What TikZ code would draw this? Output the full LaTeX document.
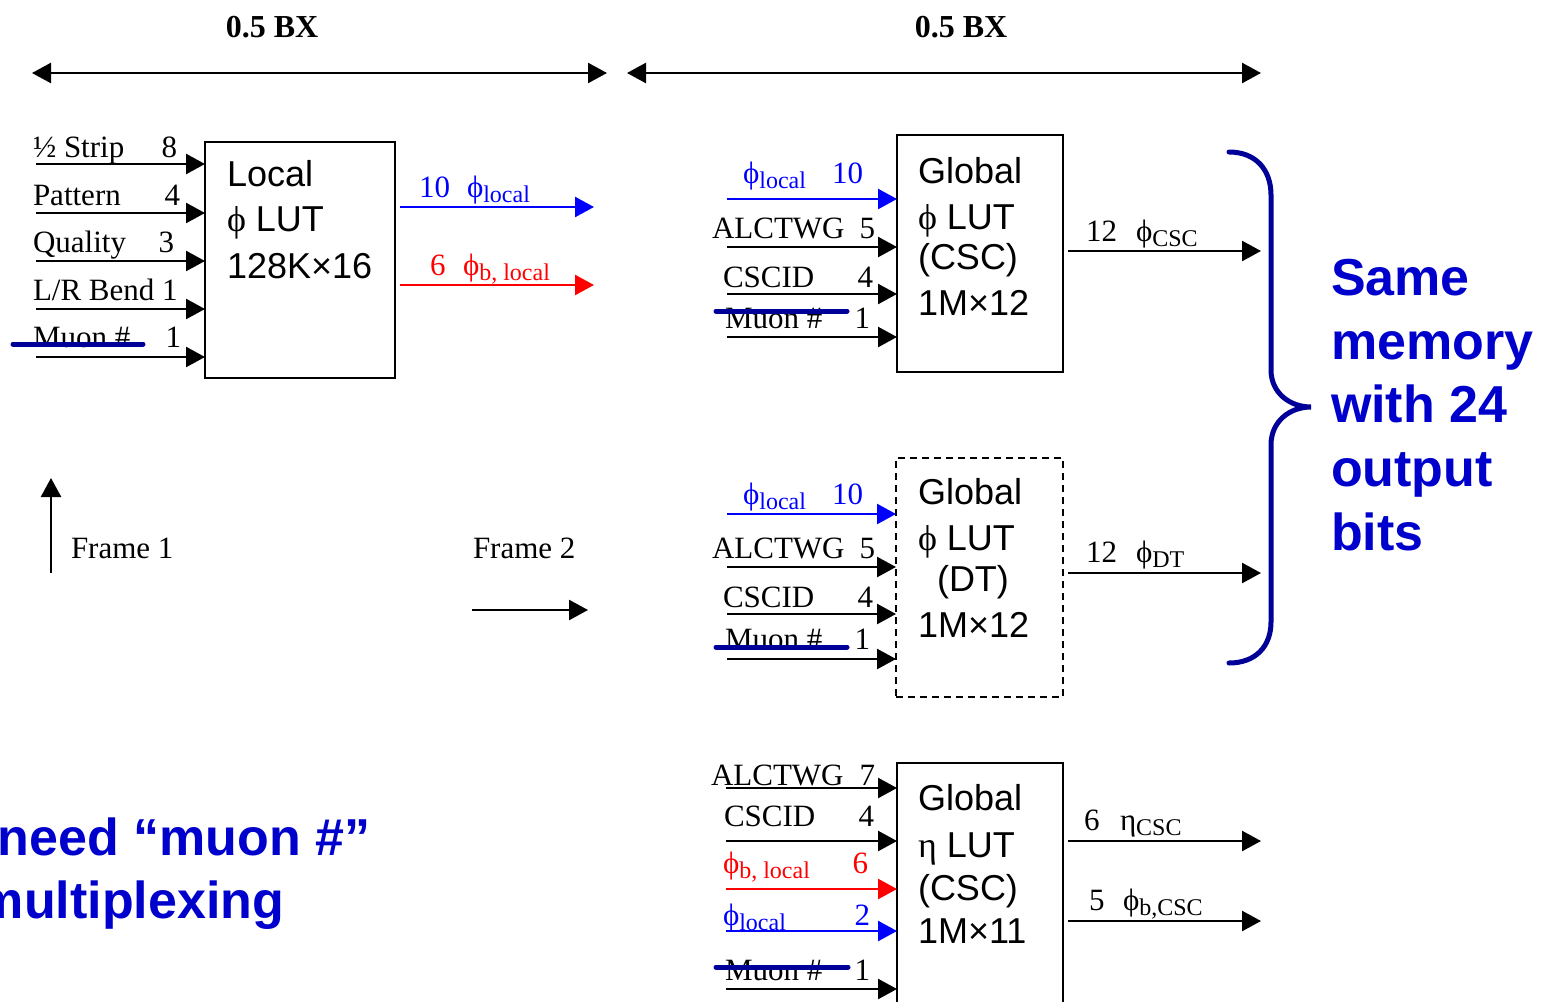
\documentclass[tikz,border=0pt]{standalone}
\usepackage{fontspec}
\setmainfont{Liberation Serif}
\newfontfamily\arialf{Liberation Sans}
\usetikzlibrary{arrows.meta}
\definecolor{sigblue}{RGB}{0,0,255}
\definecolor{sigred}{RGB}{255,0,0}
\definecolor{navy}{RGB}{0,0,153}
\definecolor{txtblue}{RGB}{0,0,204}
\newcommand{\tnr}{\fontsize{31}{31}\selectfont}
\newcommand{\lutf}{\arialf\fontsize{36}{36}\selectfont}
\newcommand{\lutsym}{\rmfamily\fontsize{36}{36}\selectfont}
\newcommand{\bigf}{\arialf\bfseries\fontsize{52}{52}\selectfont}
\newcommand{\sbs}[1]{\raisebox{-5pt}{\fontsize{24}{24}\selectfont #1}}
\tikzset{
  lb/.style={font=\tnr, inner sep=0pt, outer sep=0pt},
  lutt/.style={font=\lutf, inner sep=0pt, outer sep=0pt, anchor=base west},
  lutbox/.style={draw, line width=2pt, inner sep=0pt, outer sep=0pt, anchor=north west},
  sig/.style={line width=2.5pt, -{Triangle[length=19pt,width=20pt]}},
  dsig/.style={line width=2.5pt, {Triangle[length=19pt,width=20pt]}-{Triangle[length=19pt,width=20pt]}},
  strikeout/.style={line width=5pt, line cap=round, draw=navy},
  bigtxt/.style={font=\bigf, text=txtblue, inner sep=0pt, outer sep=0pt, anchor=base west},
}
\begin{document}
\begin{tikzpicture}[x=1pt,y=-1pt]
\useasboundingbox (0,0) rectangle (1541,1001);
\clip (0,0) rectangle (1541,1001);

% ---------- top time arrows ----------
\coordinate (ta1) at (32,73); \coordinate (tb1) at (607,73);
\coordinate (ta2) at (627,73); \coordinate (tb2) at (1261,73);
\draw[dsig] (ta1) -- (tb1);
\draw[dsig] (ta2) -- (tb2);
\node[lb, font=\bfseries\fontsize{32}{32}\selectfont, anchor=base] (bx1) at (272,37) {0.5 BX};
\node[lb, font=\bfseries\fontsize{32}{32}\selectfont, anchor=base] (bx2) at (961,37) {0.5 BX};

% ---------- Local phi LUT ----------
\node[lutbox, minimum width=190pt, minimum height=236pt] (loc) at (205,142) {};
\node[lutt] (locA) at (227,186) {Local};
\node[lutt] (locB) at (227,231) {{\lutsym ϕ} LUT};
\node[lutt] (locC) at (227,278) {128K×16};

\node[lb, anchor=base west] (li1) at (33,157) {½ Strip};
\node[lb, anchor=base east] (ln1) at (177,157) {8};
\node[lb, anchor=base west] (li2) at (33,205) {Pattern};
\node[lb, anchor=base east] (ln2) at (180,205) {4};
\node[lb, anchor=base west] (li3) at (33,252) {Quality};
\node[lb, anchor=base east] (ln3) at (174,252) {3};
\node[lb, anchor=base west] (li4) at (33,300) {L/R Bend 1};
\node[lb, anchor=base west] (li5) at (33,347) {Muon \#};
\node[lb, anchor=base east] (ln5) at (181,347) {1};
\coordinate (ls1) at (13,344); \coordinate (le1) at (143,344);
\draw[strikeout] (ls1) -- (le1);

\coordinate (lin1) at (36,164);
\coordinate (lin2) at (36,213);
\coordinate (lin3) at (36,261);
\coordinate (lin4) at (36,309);
\coordinate (lin5) at (36,357);
\foreach \i in {1,...,5} {\draw[sig] (lin\i) -- (lin\i -| loc.west);}

\coordinate (lo1) at (594,207);
\coordinate (lo2) at (594,285);
\draw[sig, draw=sigblue, fill=sigblue] ([xshift=5pt]loc.east |- lo1) -- (lo1);
\draw[sig, draw=sigred, fill=sigred] ([xshift=5pt]loc.east |- lo2) -- (lo2);
\node[lb, anchor=base west, text=sigblue] (lon1) at (419,197) {10};
\node[lb, anchor=base west, text=sigblue] (lol1) at (467,197) {ϕ\sbs{local}};
\node[lb, anchor=base west, text=sigred] (lon2) at (430,275) {6};
\node[lb, anchor=base west, text=sigred] (lol2) at (463,275) {ϕ\sbs{b, local}};

% ---------- Frame markers ----------
\coordinate (f1a) at (51,573); \coordinate (f1b) at (51,478);
\draw[sig] (f1a) -- (f1b);
\node[lb, anchor=base west] (fr1) at (71,558) {Frame 1};
\node[lb, anchor=base west] (fr2) at (473,558) {Frame 2};
\coordinate (f2a) at (472,610); \coordinate (f2b) at (588,610);
\draw[sig] (f2a) -- (f2b);

% ---------- Global phi LUT (CSC) ----------
\node[lutbox, minimum width=166pt, minimum height=237pt] (gc) at (897,135) {};
\node[lutt] (gcA) at (918,183) {Global};
\node[lutt] (gcB) at (918,229) {{\lutsym ϕ} LUT};
\node[lutt] (gcC) at (918,269) {(CSC)};
\node[lutt] (gcD) at (918,315) {1M×12};

\node[lb, anchor=base west, text=sigblue] (gci1) at (743,183) {ϕ\sbs{local}};
\node[lb, anchor=base east, text=sigblue] (gcn1) at (863,183) {10};
\node[lb, anchor=base west] (gci2) at (712,238) {ALCTWG};
\node[lb, anchor=base east] (gcn2) at (875,238) {5};
\node[lb, anchor=base west] (gci3) at (723,287) {CSCID};
\node[lb, anchor=base east] (gcn3) at (873,287) {4};
\node[lb, anchor=base west] (gci4) at (725,328) {Muon \#};
\node[lb, anchor=base east] (gcn4) at (870,328) {1};
\coordinate (gcs1) at (716,311); \coordinate (gcs2) at (847,311);
\draw[strikeout] (gcs1) -- (gcs2);

\coordinate (gcl1) at (727,199);
\coordinate (gcl2) at (727,247);
\coordinate (gcl3) at (727,294);
\coordinate (gcl4) at (727,337);
\draw[sig, draw=sigblue, fill=sigblue] (gcl1) -- (gcl1 -| gc.west);
\foreach \i in {2,3,4} {\draw[sig] (gcl\i) -- (gcl\i -| gc.west);}

\coordinate (gco) at (1261,251);
\draw[sig] ([xshift=5pt]gc.east |- gco) -- (gco);
\node[lb, anchor=base west] (gcon) at (1086,241) {12};
\node[lb, anchor=base west] (gcol) at (1136,241) {ϕ\sbs{CSC}};

% ---------- Global phi LUT (DT) ----------
\node[lutbox, dash pattern=on 7pt off 5pt, minimum width=167pt, minimum height=239pt] (gd) at (896,458) {};
\node[lutt] (gdA) at (918,504) {Global};
\node[lutt] (gdB) at (918,550) {{\lutsym ϕ} LUT};
\node[lutt] (gdC) at (937,591) {(DT)};
\node[lutt] (gdD) at (918,637) {1M×12};

\node[lb, anchor=base west, text=sigblue] (gdi1) at (743,504) {ϕ\sbs{local}};
\node[lb, anchor=base east, text=sigblue] (gdn1) at (863,504) {10};
\node[lb, anchor=base west] (gdi2) at (712,558) {ALCTWG};
\node[lb, anchor=base east] (gdn2) at (875,558) {5};
\node[lb, anchor=base west] (gdi3) at (723,607) {CSCID};
\node[lb, anchor=base east] (gdn3) at (873,607) {4};
\node[lb, anchor=base west] (gdi4) at (725,649) {Muon \#};
\node[lb, anchor=base east] (gdn4) at (870,649) {1};
\coordinate (gds1) at (716,647); \coordinate (gds2) at (847,647);
\draw[strikeout] (gds1) -- (gds2);

\coordinate (gdl1) at (727,514);
\coordinate (gdl2) at (727,567);
\coordinate (gdl3) at (727,614);
\coordinate (gdl4) at (727,659);
\draw[sig, draw=sigblue, fill=sigblue] (gdl1) -- (gdl1 -| gd.west);
\foreach \i in {2,3,4} {\draw[sig] (gdl\i) -- (gdl\i -| gd.west);}

\coordinate (gdo) at (1261,573);
\draw[sig] ([xshift=5pt]gd.east |- gdo) -- (gdo);
\node[lb, anchor=base west] (gdon) at (1086,562) {12};
\node[lb, anchor=base west] (gdol) at (1136,562) {ϕ\sbs{DT}};

% ---------- brace ----------
\coordinate (br0) at (1229,152);
\coordinate (br1) at (1271,195);
\coordinate (br2) at (1271,370);
\coordinate (brt) at (1311,407);
\coordinate (br3) at (1271,445);
\coordinate (br4) at (1271,622);
\coordinate (br5) at (1229,663);
\draw[line width=5pt, draw=navy, line cap=round]
  (br0) .. controls (1256,152) and (1271,170) .. (br1) -- (br2)
  .. controls (1271,393) and (1290,407) .. (brt)
  .. controls (1290,407) and (1271,421) .. (br3) -- (br4)
  .. controls (1271,646) and (1256,663) .. (br5);

\node[bigtxt] (m1) at (1331,295) {Same};
\node[bigtxt] (m2) at (1331,359) {memory};
\node[bigtxt] (m3) at (1331,422) {with 24};
\node[bigtxt] (m4) at (1331,486) {output};
\node[bigtxt] (m5) at (1331,550) {bits};

% ---------- Global eta LUT (CSC) ----------
\node[lutbox, minimum width=166pt, minimum height=260pt] (ge) at (897,763) {};
\node[lutt] (geA) at (918,810) {Global};
\node[lutt] (geB) at (918,857) {{\lutsym η} LUT};
\node[lutt] (geC) at (918,900) {(CSC)};
\node[lutt] (geD) at (918,943) {1M×11};

\node[lb, anchor=base west] (gei1) at (711,785) {ALCTWG};
\node[lb, anchor=base east] (gen1) at (875,785) {7};
\node[lb, anchor=base west] (gei2) at (724,826) {CSCID};
\node[lb, anchor=base east] (gen2) at (874,826) {4};
\node[lb, anchor=base west, text=sigred] (gei3) at (723,873) {ϕ\sbs{b, local}};
\node[lb, anchor=base east, text=sigred] (gen3) at (868,873) {6};
\node[lb, anchor=base west, text=sigblue] (gei4) at (723,925) {ϕ\sbs{local}};
\node[lb, anchor=base east, text=sigblue] (gen4) at (870,925) {2};
\node[lb, anchor=base west] (gei5) at (725,980) {Muon \#};
\node[lb, anchor=base east] (gen5) at (870,980) {1};
\coordinate (ges1) at (716,967); \coordinate (ges2) at (848,967);
\draw[strikeout] (ges1) -- (ges2);

\coordinate (gel1) at (726,788);
\coordinate (gel2) at (726,841);
\coordinate (gel3) at (726,889);
\coordinate (gel4) at (726,931);
\coordinate (gel5) at (726,989);
\draw[sig] (gel1) -- (gel1 -| ge.west);
\draw[sig] (gel2) -- (gel2 -| ge.west);
\draw[sig, draw=sigred, fill=sigred] (gel3) -- (gel3 -| ge.west);
\draw[sig, draw=sigblue, fill=sigblue] (gel4) -- (gel4 -| ge.west);
\draw[sig] (gel5) -- (gel5 -| ge.west);

\coordinate (geo1) at (1261,841);
\coordinate (geo2) at (1261,921);
\draw[sig] ([xshift=5pt]ge.east |- geo1) -- (geo1);
\draw[sig] ([xshift=5pt]ge.east |- geo2) -- (geo2);
\node[lb, anchor=base west] (geon1) at (1084,830) {6};
\node[lb, anchor=base west] (geol1) at (1120,830) {η\sbs{CSC}};
\node[lb, anchor=base west] (geon2) at (1089,910) {5};
\node[lb, anchor=base west] (geol2) at (1123,910) {ϕ\sbs{b,CSC}};

% ---------- bottom-left remark (cut by the picture edge, as in the reference) ----------
\node[bigtxt] (nb1) at (-2,855) {need “muon \#”};
\node[bigtxt] (nb2) at (-22,918) {multiplexing};
\end{tikzpicture}
\end{document}
